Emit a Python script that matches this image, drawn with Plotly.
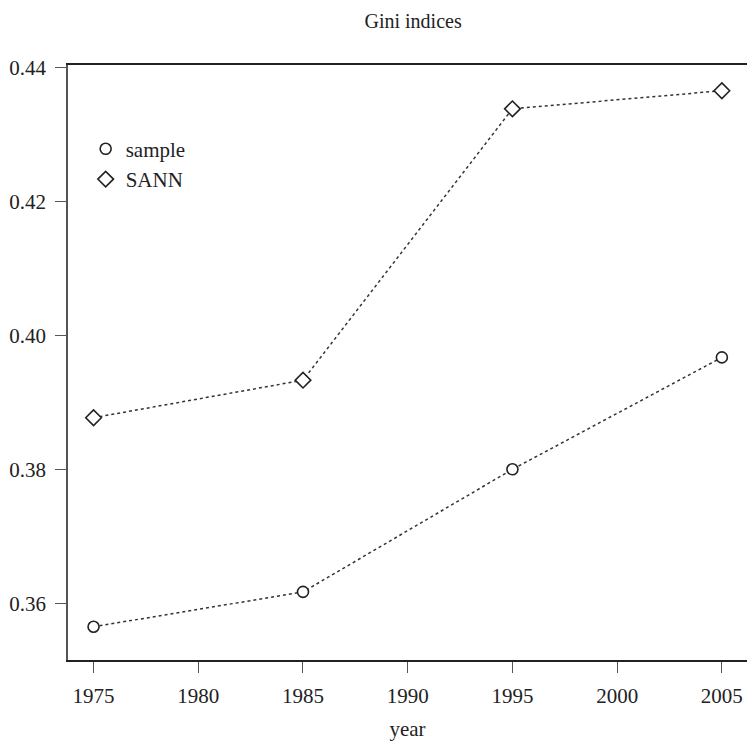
import plotly.graph_objects as go

years = [1975, 1985, 1995, 2005]
sample = [0.3565, 0.3617, 0.3800, 0.3967]
sann = [0.3877, 0.3933, 0.4338, 0.4365]
x_ticks = [1975, 1980, 1985, 1990, 1995, 2000, 2005]
y_ticks = [0.36, 0.38, 0.40, 0.42, 0.44]
y_tick_text = ["0.36", "0.38", "0.40", "0.42", "0.44"]

FONT = "Liberation Serif, Times New Roman, serif"
INK = "#222222"
FS = 21

fig = go.Figure()
fig.add_trace(go.Scatter(
    x=years, y=sample, mode="lines+markers", showlegend=False,
    line=dict(color="#333333", width=1.5, dash="dot"),
    marker=dict(symbol="circle", size=11, color="white", line=dict(color=INK, width=1.6)),
))
fig.add_trace(go.Scatter(
    x=years, y=sann, mode="lines+markers", showlegend=False,
    line=dict(color="#333333", width=1.5, dash="dot"),
    marker=dict(symbol="diamond", size=12, color="white", line=dict(color=INK, width=1.6)),
))
# legend entries (markers only, as in the original)
fig.add_trace(go.Scatter(
    x=[None], y=[None], mode="markers", name="sample",
    marker=dict(symbol="circle", size=11, color="white", line=dict(color=INK, width=1.6)),
))
fig.add_trace(go.Scatter(
    x=[None], y=[None], mode="markers", name="SANN",
    marker=dict(symbol="diamond", size=12, color="white", line=dict(color=INK, width=1.6)),
))

fig.update_layout(
    width=747, height=741,
    margin=dict(l=68, r=0, t=65, b=81),
    paper_bgcolor="white", plot_bgcolor="white",
    font=dict(family=FONT, size=FS, color=INK),
    title=dict(text="Gini indices", x=0.553, xanchor="center", y=0.972, yanchor="middle",
               font=dict(family=FONT, size=20, color=INK)),
    legend=dict(x=0.026, y=0.893, xanchor="left", yanchor="top",
                bgcolor="rgba(0,0,0,0)", font=dict(family=FONT, size=FS, color=INK)),
    xaxis=dict(
        range=[1973.78, 2006.2], tickvals=x_ticks, ticks="outside", ticklen=11,
        tickwidth=1.2, tickcolor="#555555", showgrid=False, zeroline=False,
        showline=True, linecolor=INK, linewidth=1.5, mirror=True,
        ticklabelstandoff=5,
        title=dict(text="year", font=dict(family=FONT, size=FS, color=INK), standoff=18),
        tickfont=dict(family=FONT, size=FS, color=INK),
    ),
    yaxis=dict(
        range=[0.35154, 0.44034], tickvals=y_ticks, ticktext=y_tick_text, ticks="outside",
        ticklen=11, tickwidth=1.2, tickcolor="#555555", showgrid=False, zeroline=False,
        showline=True, linecolor="#555555", linewidth=1.5,
        ticklabelstandoff=5,
        tickfont=dict(family=FONT, size=FS, color=INK),
    ),
)

fig.write_html("out.html")
